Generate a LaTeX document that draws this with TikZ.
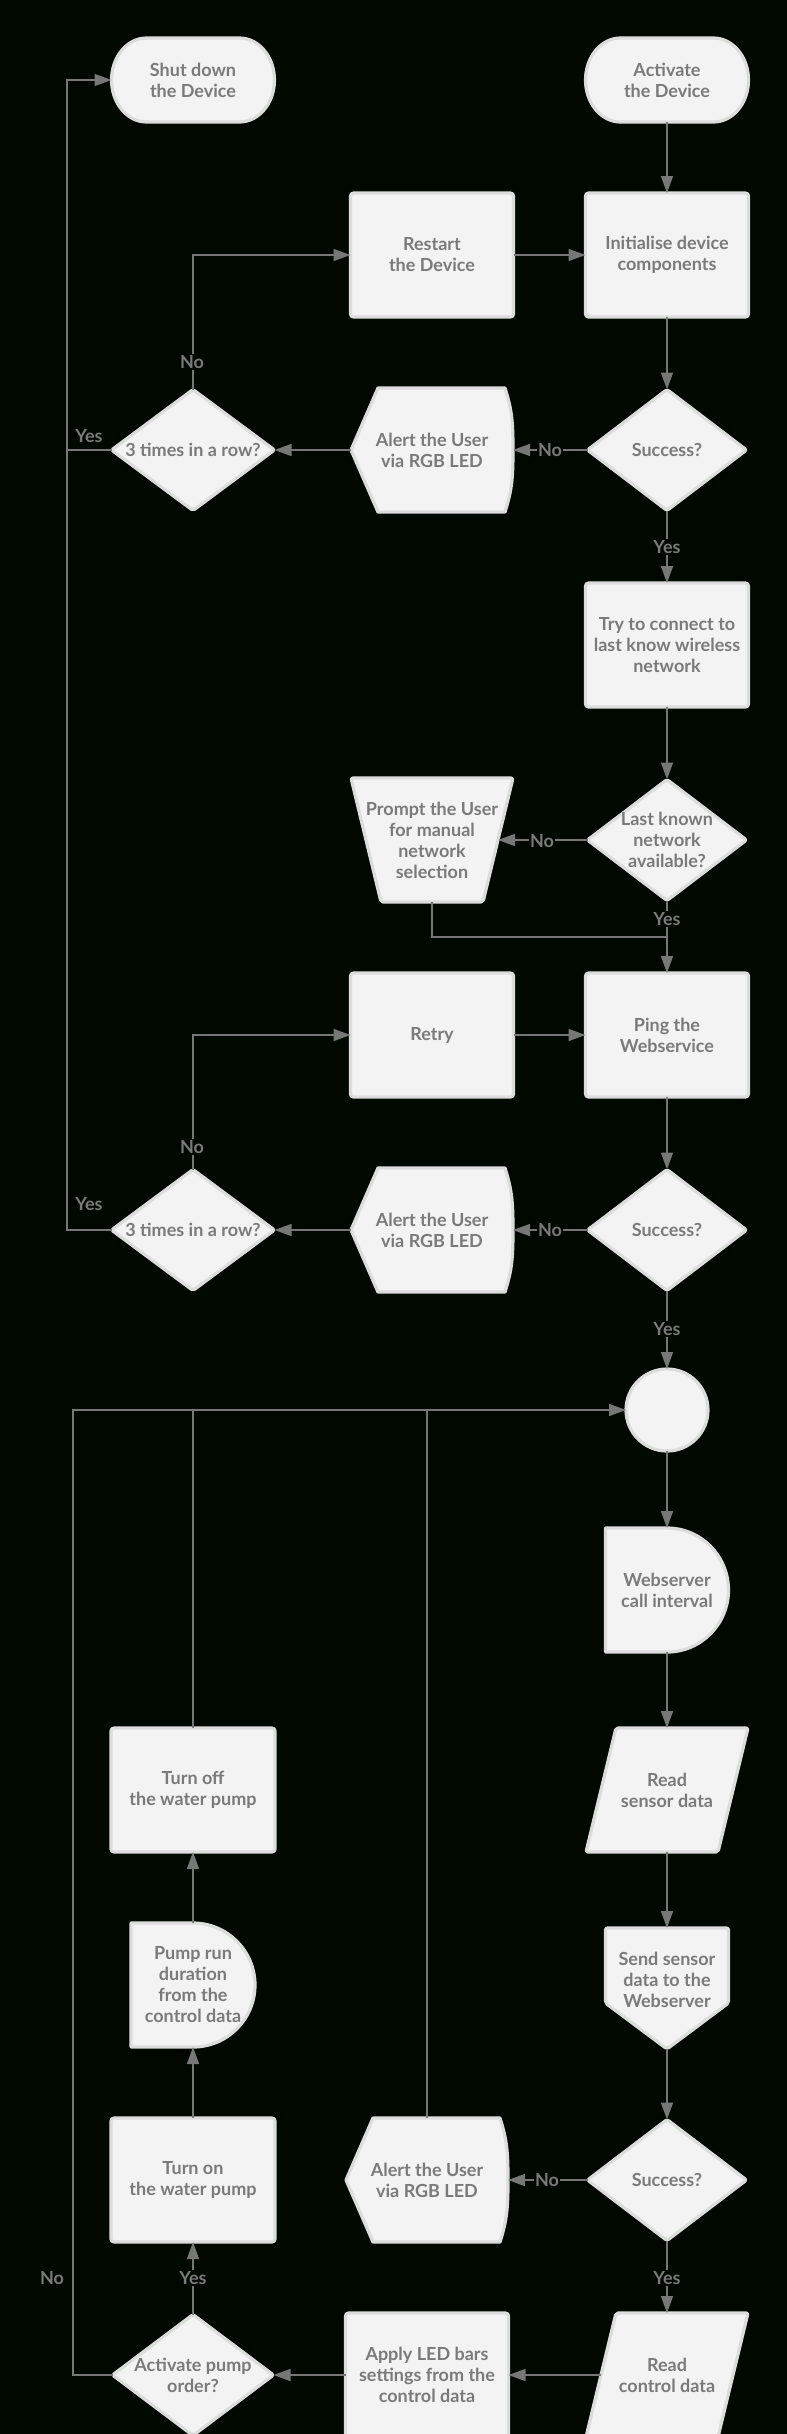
\documentclass[tikz,border=0pt]{standalone}
\usepackage{fontspec}
\setmainfont{Lato}
\usetikzlibrary{arrows.meta,calc}
\definecolor{bgc}{RGB}{0,8,0}
\definecolor{fillc}{RGB}{243,243,243}
\definecolor{brd}{RGB}{220,220,220}
\definecolor{linec}{RGB}{119,119,119}
\definecolor{txtc}{RGB}{122,122,122}
\pgfdeclarelayer{back}
\pgfdeclarelayer{shapes}
\pgfsetlayers{back,shapes,main}
\newcommand\shBox[1]{\draw[shp,rounded corners=3pt] (#1.north west) rectangle (#1.south east);}
\newcommand\shDia[1]{\draw[shp,rounded corners=2pt] (#1.north) -- (#1.east) -- (#1.south) -- (#1.west) -- cycle;}
\newcommand\shTerm[1]{\draw[shp] ($(#1.north west)+(35,0)$) -- ($(#1.north east)+(-35,0)$) arc[start angle=-90,end angle=90,x radius=35,y radius=42] -- ($(#1.south west)+(35,0)$) arc[start angle=90,end angle=270,x radius=35,y radius=42] -- cycle;}
\newcommand\shDisp[1]{\draw[shp] (#1.west) -- ($(#1.north west)+(27,0)$) -- ($(#1.north east)+(-8,0)$) .. controls ($(#1.north east)+(-1,22)$) and ($(#1.east)+(0,-28)$) .. (#1.east) .. controls ($(#1.east)+(0,28)$) and ($(#1.south east)+(-1,-22)$) .. ($(#1.south east)+(-8,0)$) -- ($(#1.south west)+(27,0)$) -- cycle;}
\newcommand\shDelay[3]{\draw[shp] (#1.north west) -- (#1.north) arc[start angle=-90,end angle=90,x radius=#2,y radius=#3] -- (#1.south west) -- cycle;}
\newcommand\shPara[1]{\draw[shp,rounded corners=2pt] ($(#1.north west)+(30,0)$) -- (#1.north east) -- ($(#1.south east)+(-30,0)$) -- (#1.south west) -- cycle;}
\newcommand\shTrap[1]{\draw[shp,rounded corners=2pt] (#1.north west) -- (#1.north east) -- ($(#1.south east)+(-30,0)$) -- ($(#1.south west)+(30,0)$) -- cycle;}
\newcommand\shOff[1]{\draw[shp,rounded corners=2pt] (#1.north west) -- (#1.north east) -- ($(#1.north east)+(0,75)$) -- (#1.south) -- ($(#1.north west)+(0,75)$) -- cycle;}
\begin{document}
\begin{tikzpicture}[x=1pt,y=-1pt,
  nd/.style={rectangle,draw=none,inner sep=0pt,outer sep=0pt,align=center,text=txtc,font=\bfseries\fontsize{18}{21}\selectfont},
  shp/.style={draw=brd,fill=fillc,line width=3.2pt,line join=round},
  ln/.style={draw=linec,line width=1.6pt},
  arr/.style={ln,-{Triangle[length=17pt,width=12pt]}},
  lab/.style={fill=bgc,text=txtc,inner sep=1.5pt,font=\bfseries\fontsize{18}{21}\selectfont}]
\useasboundingbox (0,0) rectangle (787,2434);
\begin{pgfonlayer}{back}
\fill[bgc] (0,0) rectangle (787,2434);
\end{pgfonlayer}
% nodes
\node[nd,minimum width=163pt,minimum height=84pt] (shut) at (193,80) {Shut down\\the Device};
\node[nd,minimum width=163pt,minimum height=84pt] (act) at (667,80) {Activate\\the Device};
\node[nd,minimum width=163pt,minimum height=124pt] (restart) at (432,255) {Restart\\the Device};
\node[nd,minimum width=163pt,minimum height=124pt] (init) at (667,255) {Initialise device\\components};
\node[nd,minimum width=159pt,minimum height=121pt] (s1) at (667,450) {Success?};
\node[nd,minimum width=162pt,minimum height=124pt] (al1) at (432,450) {Alert the User\\via RGB LED};
\node[nd,minimum width=163pt,minimum height=121pt] (t1) at (193,450) {3 times in a row?};
\node[nd,minimum width=163pt,minimum height=124pt] (try) at (667,645) {Try to connect to\\last know wireless\\network};
\node[nd,minimum width=159pt,minimum height=121pt] (last) at (667,840) {Last known\\network\\available?};
\node[nd,minimum width=162pt,minimum height=124pt] (prompt) at (432,840) {Prompt the User\\for manual\\network\\selection};
\node[nd,minimum width=163pt,minimum height=124pt] (retry) at (432,1035) {Retry};
\node[nd,minimum width=163pt,minimum height=124pt] (ping) at (667,1035) {Ping the\\Webservice};
\node[nd,minimum width=159pt,minimum height=121pt] (s2) at (667,1230) {Success?};
\node[nd,minimum width=162pt,minimum height=124pt] (al2) at (432,1230) {Alert the User\\via RGB LED};
\node[nd,minimum width=163pt,minimum height=121pt] (t2) at (193,1230) {3 times in a row?};
\node[circle,draw=none,inner sep=0pt,outer sep=0pt,minimum size=82pt] (circ) at (667,1410) {};
\node[nd,minimum width=123pt,minimum height=124pt] (wsi) at (667,1590) {Webserver\\call interval};
\node[nd,minimum width=162pt,minimum height=124pt] (rsd) at (667,1790) {Read\\sensor data};
\node[nd,minimum width=123pt,minimum height=121pt] (send) at (667,1988.5) {};
\node[nd] (sendtext) at (667,1980) {Send sensor\\data to the\\Webserver};
\node[nd,minimum width=159pt,minimum height=121pt] (s3) at (667,2180) {Success?};
\node[nd,minimum width=162pt,minimum height=124pt] (al3) at (427,2180) {Alert the User\\via RGB LED};
\node[nd,minimum width=162pt,minimum height=124pt] (readc) at (667,2375) {Read\\control data};
\node[nd,minimum width=163pt,minimum height=124pt] (apply) at (427,2375) {Apply LED bars\\settings from the\\control data};
\node[nd,minimum width=161pt,minimum height=121pt] (apo) at (193,2375) {Activate pump\\order?};
\node[nd,minimum width=164pt,minimum height=124pt] (turnon) at (193,2180) {Turn on\\the water pump};
\node[nd,minimum width=124pt,minimum height=124pt] (pump) at (193,1985) {Pump run\\duration\\from the\\control data};
\node[nd,minimum width=164pt,minimum height=124pt] (turnoff) at (193,1790) {Turn off\\the water pump};
% shapes
\begin{pgfonlayer}{shapes}
\shTerm{shut}\shTerm{act}
\shBox{restart}\shBox{init}\shBox{try}\shBox{retry}\shBox{ping}
\shBox{apply}\shBox{turnon}\shBox{turnoff}
\shDia{s1}\shDia{t1}\shDia{last}\shDia{s2}\shDia{t2}\shDia{s3}\shDia{apo}
\shDisp{al1}\shDisp{al2}\shDisp{al3}
\shTrap{prompt}
\shPara{rsd}\shPara{readc}
\shDelay{wsi}{61.5}{62}\shDelay{pump}{62}{62}
\shOff{send}
\draw[shp] (circ.center) circle[radius=41];
\end{pgfonlayer}
% connectors
\coordinate (leftA) at (67,80);
\coordinate (leftB) at (73,1410);
\coordinate (pj) at (667,937);
\draw[arr] (act.south) -- (init.north);
\draw[arr] (init.south) -- (s1.north);
\draw[arr] (s1.west) -- (al1.east);
\draw[arr] (al1.west) -- (t1.east);
\draw[arr] (t1.north) |- (restart.west);
\draw[arr] (restart.east) -- (init.west);
\draw[arr] (t1.west) -| (leftA) -- (shut.west);
\draw[arr] (s1.south) -- (try.north);
\draw[arr] (try.south) -- (last.north);
\draw[arr] (last.west) -- ($(prompt.east)+(-15,0)$);
\draw[arr] (last.south) -- (ping.north);
\draw[ln] (prompt.south) |- (pj);
\draw[arr] (ping.south) -- (s2.north);
\draw[arr] (s2.west) -- (al2.east);
\draw[arr] (al2.west) -- (t2.east);
\draw[arr] (t2.north) |- (retry.west);
\draw[arr] (retry.east) -- (ping.west);
\draw[ln] (t2.west) -| (leftA);
\draw[arr] (s2.south) -- (circ.north);
\draw[arr] (circ.south) -- (wsi.north);
\draw[arr] (wsi.south) -- (rsd.north);
\draw[arr] (rsd.south) -- (send.north);
\draw[arr] (send.south) -- (s3.north);
\draw[arr] (s3.west) -- (al3.east);
\draw[arr] (s3.south) -- (readc.north);
\draw[arr] ($(readc.west)+(15,0)$) -- (apply.east);
\draw[arr] (apply.west) -- (apo.east);
\draw[arr] (apo.north) -- (turnon.south);
\draw[arr] (turnon.north) -- (pump.south);
\draw[arr] (pump.north) -- (turnoff.south);
\draw[ln] (turnoff.north) -- (turnoff.north |- circ.west);
\draw[ln] (al3.north) -- (al3.north |- circ.west);
\draw[arr] (apo.west) -| (leftB) -- (circ.west);
% labels
\node[lab] (l1) at (192,362) {No};
\node[lab] (l2) at (550,450) {No};
\node[lab] (l3) at (89,436) {Yes};
\node[lab] (l4) at (667,547) {Yes};
\node[lab] (l5) at (542,841) {No};
\node[lab] (l6) at (667,919) {Yes};
\node[lab] (l7) at (192,1147) {No};
\node[lab] (l8) at (550,1230) {No};
\node[lab] (l9) at (89,1204) {Yes};
\node[lab] (l10) at (667,1329) {Yes};
\node[lab] (l11) at (547,2180) {No};
\node[lab] (l12) at (667,2278) {Yes};
\node[lab] (l13) at (193,2278) {Yes};
\node[lab] (l14) at (52,2278) {No};
\end{tikzpicture}
\end{document}
